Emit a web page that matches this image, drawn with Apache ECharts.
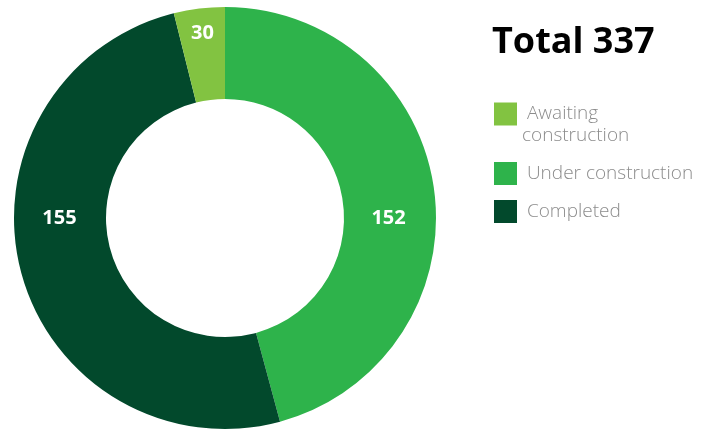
<!DOCTYPE html>
<html>
<head>
<meta charset="utf-8">
<script src="https://cdn.jsdelivr.net/npm/echarts@6/dist/echarts.min.js"></script>
<style>
  html, body { margin: 0; padding: 0; background: #fff; }
  #chart { width: 713px; height: 432px; }
</style>
</head>
<body>
<div id="chart"></div>
<script>
  // slices in clockwise order from the top
  const categories = ['Under construction', 'Completed', 'Awaiting construction'];
  const counts = [152, 155, 30];
  // share of the ring each slice takes in the picture (%), not proportional to counts
  const arcShare = [45.8, 50.3, 3.9];
  const legendOrder = ['Awaiting construction', 'Under construction', 'Completed'];

  const colors = {
    'Under construction': '#2eb34b',
    'Completed': '#02492c',
    'Awaiting construction': '#82c341'
  };
  // nudges to put the labels where the picture has them
  const labelOffsets = {
    'Under construction': [-3, 22],
    'Completed': [-3, -42],
    'Awaiting construction': [-2, -18]
  };

  const total = counts.reduce((a, b) => a + b, 0);

  const chart = echarts.init(document.getElementById('chart'), null, {renderer: 'canvas'});

  const data = categories.map((name, i) => ({
    name: name,
    value: arcShare[i],
    itemStyle: {color: colors[name]},
    label: {offset: labelOffsets[name]}
  }));

  // the wrapped legend entry hangs below its swatch, so an empty first line
  // pushes the two text lines down
  function legendText(name) {
    if (name === 'Awaiting construction') {
      return '\n Awaiting\nconstruction';
    }
    return ' ' + name;
  }

  const option = {
    animation: false,
    title: {
      text: 'Total ' + total,
      left: 492,
      top: 25,
      padding: 0,
      textStyle: {
        fontFamily: 'Open Sans',
        fontWeight: 'bold',
        fontSize: 36,
        color: '#000'
      }
    },
    legend: {
      orient: 'vertical',
      left: 494,
      top: 81,
      padding: 0,
      itemWidth: 23,
      itemHeight: 23,
      itemGap: 15,
      icon: 'rect',
      selectedMode: false,
      formatter: legendText,
      textStyle: {
        fontFamily: 'Open Sans',
        fontSize: 19,
        fontWeight: 300,
        color: '#8c8c8c',
        lineHeight: 22
      },
      data: legendOrder
    },
    series: [{
      type: 'pie',
      center: [225, 218],
      radius: [119, 211],
      startAngle: 90,
      clockwise: true,
      avoidLabelOverlap: false,
      itemStyle: {borderWidth: 0},
      emphasis: {disabled: true},
      label: {
        show: true,
        position: 'inside',
        color: '#fff',
        fontFamily: 'Open Sans',
        fontWeight: 'bold',
        fontSize: 20,
        formatter: p => String(counts[p.dataIndex])
      },
      labelLine: {show: false},
      data: data
    }]
  };

  chart.setOption(option);
</script>
</body>
</html>
